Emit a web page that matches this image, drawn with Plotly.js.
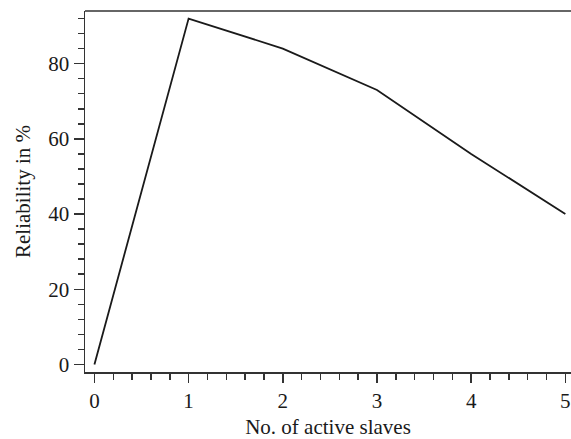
<!DOCTYPE html>
<html>
<head>
<meta charset="utf-8">
<script src="https://cdn.plot.ly/plotly-3.0.1.min.js"></script>
<style>html,body{margin:0;padding:0;background:#fff;}#chart{width:571px;height:439px;}</style>
</head>
<body>
<div id="chart"></div>
<script>
const activeSlaves = [0, 1, 2, 3, 4, 5];
const reliability = [0, 92, 84, 73, 56, 40];
const xTickVals = [0, 1, 2, 3, 4, 5];
const yTickVals = [0, 20, 40, 60, 80];

const fontFam = 'Liberation Serif, DejaVu Serif, serif';
const trace = {
  x: activeSlaves, y: reliability, type: 'scatter', mode: 'lines',
  line: {color: '#1a1a1a', width: 1.8}, hoverinfo: 'skip'
};
const layout = {
  width: 571, height: 439,
  margin: {l: 85, r: 0, t: 11, b: 67},
  paper_bgcolor: '#fff', plot_bgcolor: '#fff',
  showlegend: false,
  font: {family: fontFam, size: 21, color: '#1a1a1a'},
  xaxis: {
    range: [-0.1, 5.06], showgrid: false, zeroline: false,
    showline: true, linecolor: '#333', linewidth: 1.5,
    ticks: 'outside', ticklen: 9, tickwidth: 1.5, tickcolor: '#333',
    tickvals: xTickVals, ticktext: xTickVals.map(String),
    minor: {dtick: 0.2, tick0: 0, ticks: 'outside', ticklen: 6, tickwidth: 1.5, tickcolor: '#333'},
    tickfont: {family: fontFam, size: 21},
    title: {text: 'No. of active slaves', font: {family: fontFam, size: 21}, standoff: 8}
  },
  yaxis: {
    range: [-2, 94], showgrid: false, zeroline: false,
    showline: true, linecolor: '#333', linewidth: 1.5,
    ticks: 'outside', ticklen: 10, tickwidth: 1.5, tickcolor: '#333',
    tickvals: yTickVals, ticktext: yTickVals.map(String),
    minor: {dtick: 4, tick0: 0, ticks: 'outside', ticklen: 6, tickwidth: 1.5, tickcolor: '#333'},
    tickfont: {family: fontFam, size: 21},
    title: {text: 'Reliability in %', font: {family: fontFam, size: 21}, standoff: 12}
  },
  shapes: [{type: 'line', xref: 'paper', yref: 'paper', x0: 0, x1: 1, y0: 1, y1: 1,
            line: {color: '#333', width: 1.5}}]
};
Plotly.newPlot('chart', [trace], layout, {displayModeBar: false, staticPlot: true});
</script>
</body>
</html>
